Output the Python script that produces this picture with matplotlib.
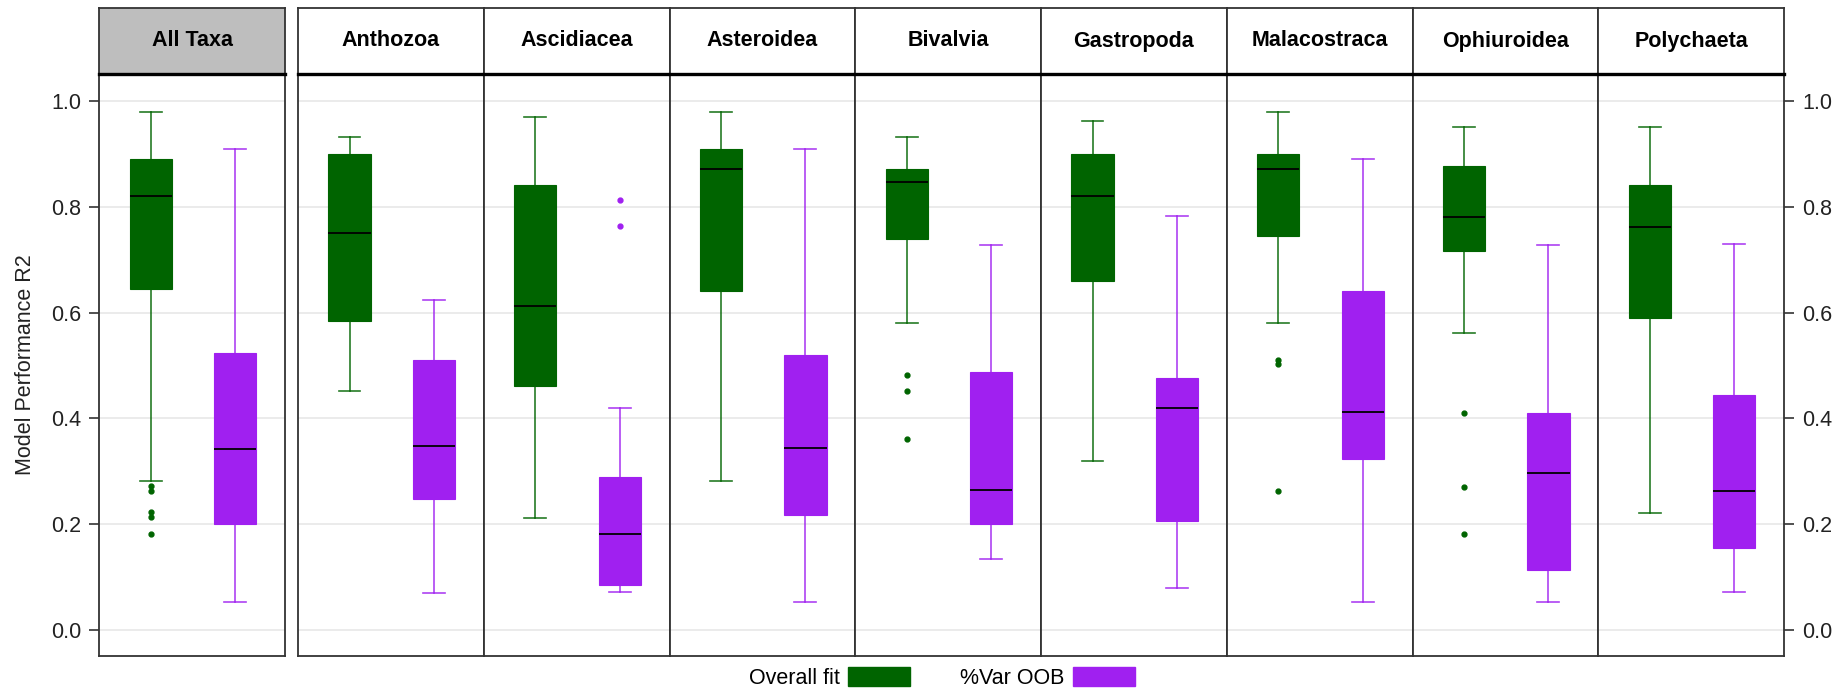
import matplotlib
matplotlib.use("Agg")
import matplotlib.pyplot as plt
from matplotlib.patches import Patch

plt.rcParams['font.family'] = ['Liberation Sans', 'DejaVu Sans']

# 面板名称
taxa = ["All Taxa", "Anthozoa", "Ascidiacea", "Asteroidea", "Bivalvia",
        "Gastropoda", "Malacostraca", "Ophiuroidea", "Polychaeta"]

# Overall fit 箱线图统计量
fit_lo = [0.281, 0.451, 0.212, 0.281, 0.580, 0.320, 0.580, 0.562, 0.222]
fit_q1 = [0.644, 0.585, 0.461, 0.641, 0.739, 0.659, 0.745, 0.716, 0.590]
fit_med = [0.820, 0.751, 0.612, 0.871, 0.846, 0.820, 0.871, 0.781, 0.761]
fit_q3 = [0.890, 0.900, 0.841, 0.910, 0.872, 0.900, 0.900, 0.877, 0.841]
fit_hi = [0.979, 0.931, 0.969, 0.979, 0.931, 0.962, 0.979, 0.951, 0.951]
fit_out = [[0.273, 0.262, 0.224, 0.213, 0.182], [], [], [],
           [0.483, 0.452, 0.362], [], [0.511, 0.502, 0.262],
           [0.411, 0.271, 0.182], []]

# %Var OOB 箱线图统计量
oob_lo = [0.054, 0.070, 0.072, 0.054, 0.134, 0.079, 0.054, 0.054, 0.072]
oob_q1 = [0.201, 0.247, 0.086, 0.218, 0.201, 0.206, 0.324, 0.113, 0.155]
oob_med = [0.343, 0.348, 0.182, 0.345, 0.265, 0.420, 0.412, 0.296, 0.263]
oob_q3 = [0.524, 0.511, 0.290, 0.519, 0.488, 0.477, 0.640, 0.410, 0.444]
oob_hi = [0.910, 0.623, 0.420, 0.910, 0.727, 0.783, 0.890, 0.727, 0.730]
oob_out = [[], [], [0.813, 0.764], [], [], [], [], [], []]

series = ["Overall fit", "%Var OOB"]
colors = ["#006400", "#A020F0"]
yticks = [0.0, 0.2, 0.4, 0.6, 0.8, 1.0]

W, H = 1847, 694
fig = plt.figure(figsize=(W / 100, H / 100), dpi=100)

panel_w = 185.75
top, bottom, strip_top = 74, 656, 8
lefts = [99.3] + [298 + i * panel_w for i in range(8)]
edge = "#333333"
fs = 15.5


def stats(lo, q1, med, q3, hi, out, i):
    return dict(whislo=lo[i], q1=q1[i], med=med[i], q3=q3[i], whishi=hi[i], fliers=out[i])


for i, name in enumerate(taxa):
    x0 = lefts[i]
    ax = fig.add_axes([x0 / W, (H - bottom) / H, panel_w / W, (bottom - top) / H])
    for k, (lo, q1, med, q3, hi, out) in enumerate([
            (fit_lo, fit_q1, fit_med, fit_q3, fit_hi, fit_out),
            (oob_lo, oob_q1, oob_med, oob_q3, oob_hi, oob_out)]):
        c = colors[k]
        ax.bxp([stats(lo, q1, med, q3, hi, out, i)], positions=[k + 1], widths=0.5,
               patch_artist=True, showfliers=True,
               boxprops=dict(facecolor=c, edgecolor=c, linewidth=0.8, alpha=1),
               medianprops=dict(color="black", linewidth=1.3),
               whiskerprops=dict(color=c, linewidth=1.2, alpha=0.85),
               capprops=dict(color=c, linewidth=1.2, alpha=0.85),
               flierprops=dict(marker="o", markersize=3.5, markerfacecolor=c,
                               markeredgecolor=c, linestyle="none"),
               capwidths=0.26)
    ax.set_xlim(0.39, 2.59)
    ax.set_ylim(-0.049, 1.051)
    ax.set_yticks(yticks)
    ax.set_xticks([])
    ax.grid(axis="y", color="#e8e8e8", linewidth=1.2)
    ax.set_axisbelow(True)
    for s in ax.spines.values():
        s.set_color(edge)
        s.set_linewidth(1.3)
    if i == 0:
        ax.tick_params(axis="y", left=True, right=False, labelleft=True,
                       length=7, width=1.2, color=edge, labelsize=fs, pad=6)
        ax.set_yticklabels([f"{v:.1f}" for v in yticks], color="#222222")
        ax.set_ylabel("Model Performance R2", fontsize=fs, color="#222222", labelpad=11)
    elif i == len(taxa) - 1:
        ax.tick_params(axis="y", left=False, right=True, labelleft=False, labelright=True,
                       length=7, width=1.2, color=edge, labelsize=fs, pad=6)
        ax.set_yticklabels([f"{v:.1f}" for v in yticks], color="#222222")
    else:
        ax.tick_params(axis="y", left=False, labelleft=False)

    # 条带标题
    sax = fig.add_axes([x0 / W, (H - top) / H, panel_w / W, (top - strip_top) / H])
    sax.set_facecolor("#bebebe" if i == 0 else "white")
    sax.set_xticks([])
    sax.set_yticks([])
    for s in sax.spines.values():
        s.set_color(edge)
        s.set_linewidth(1.3)
    sax.spines["bottom"].set_color("black")
    sax.spines["bottom"].set_linewidth(2.4)
    sax.text(0.5, 0.5, name, ha="center", va="center", fontsize=fs,
             fontweight="bold", transform=sax.transAxes)

handles = [Patch(facecolor=c, edgecolor=c) for c in colors]
fig.legend(handles, series, loc="center", bbox_to_anchor=(0.51, 16 / H), ncol=2,
           frameon=False, markerfirst=False, fontsize=fs, handlelength=2.9,
           handleheight=1.0, columnspacing=2.3, handletextpad=0.4)

fig.savefig("out.png", dpi=100)
